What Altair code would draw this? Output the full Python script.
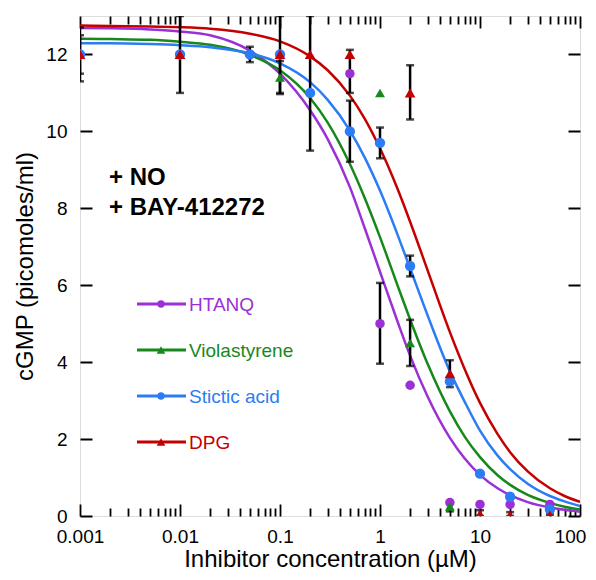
import altair as alt
import pandas as pd

# ---- series meta ----
series = ["HTANQ", "Violastyrene", "Stictic acid", "DPG"]
colors = ["#9b30d6", "#17891c", "#2b7cf5", "#c40000"]
shapes = ["circle", "triangle-up", "circle", "triangle-up"]
marker_sizes = [90, 115, 90, 115]

# ---- fitted curves ----
curve_x = [0.001, 0.002, 0.005, 0.01, 0.02, 0.05, 0.1, 0.2, 0.3, 0.5, 0.7, 1,
           1.5, 2, 3, 5, 7, 10, 15, 20, 30, 50, 70, 100]
curve_htanq = [12.69, 12.68, 12.65, 12.6, 12.5, 12.1, 11.5, 10.55, 9.8, 8.55, 7.5, 6.35,
               5.05, 4.17, 3.1, 2.03, 1.5, 1.07, 0.72, 0.54, 0.36, 0.22, 0.16, 0.11]
curve_viola = [12.41, 12.4, 12.38, 12.33, 12.25, 11.99, 11.59, 10.87, 10.23, 9.15, 8.28, 7.25,
               5.99, 5.11, 3.95, 2.72, 2.07, 1.53, 1.06, 0.81, 0.55, 0.34, 0.24, 0.17]
curve_stictic = [12.29, 12.29, 12.27, 12.24, 12.19, 12.03, 11.77, 11.28, 10.82, 10.02, 9.33, 8.46,
                 7.31, 6.44, 5.21, 3.76, 2.98, 2.22, 1.57, 1.22, 0.84, 0.52, 0.38, 0.26]
curve_dpg = [12.75, 12.74, 12.73, 12.71, 12.67, 12.54, 12.34, 11.95, 11.59, 10.93, 10.34, 9.56,
             8.5, 7.65, 6.38, 4.78, 3.83, 2.94, 2.13, 1.66, 1.16, 0.72, 0.52, 0.37]

# ---- measured points ----
htanq_x = [0.001, 0.01, 0.05, 0.1, 0.5, 1, 2, 5, 10, 20, 50]
htanq_y = [12, 12, 12, 12, 11.5, 5.0, 3.4, 0.35, 0.3, 0.3, 0.3]
viola_x = [0.001, 0.01, 0.1, 1, 2, 5, 10, 20, 50]
viola_y = [12, 12, 11.4, 11.0, 4.5, 0.25, 0.0, 0.0, 0.0]
stictic_x = [0.001, 0.01, 0.05, 0.1, 0.2, 0.5, 1, 2, 5, 10, 20, 50]
stictic_y = [12, 12, 12, 12, 11.0, 10.0, 9.7, 6.5, 3.5, 1.1, 0.5, 0.17]
dpg_x = [0.001, 0.01, 0.1, 0.2, 0.5, 2, 5, 10, 20, 50]
dpg_y = [12, 12, 12, 12, 12, 11.0, 3.7, 0.05, 0.02, 0.02]

# ---- error bars ----
err_x = [0.001, 0.001, 0.01, 0.05, 0.1, 0.1, 0.2, 0.5, 0.5, 1, 1, 2, 2, 2, 5, 5, 10, 20, 50]
err_lo = [11.3, 11.5, 11.0, 11.8, 11.0, 10.97, 9.5, 11.0, 9.21, 9.3, 3.96, 10.31, 6.23, 3.9,
          3.35, 0.12, 0.0, 0.0, 0.0]
err_hi = [12.7, 12.5, 13.0, 12.2, 13.0, 11.83, 13.0, 12.12, 10.8, 10.1, 6.06, 11.72, 6.77, 5.1,
          4.05, 0.38, 0.15, 0.1, 0.06]

# ---- axis ticks / labels / texts ----
x_major = [0.001, 0.01, 0.1, 1, 10, 100]
x_all_ticks = x_major + [m * d for d in [0.001, 0.01, 0.1, 1, 10] for m in range(2, 10)]
y_ticks = [0, 2, 4, 6, 8, 10, 12]
x_title = "Inhibitor concentration (µM)"
y_title = "cGMP (picomoles/ml)"
notes = ["+ NO", "+ BAY-412272"]

FONT = "Liberation Sans"

# ---- tables ----
curve_vals = [curve_htanq, curve_viola, curve_stictic, curve_dpg]
curve_df = pd.DataFrame([
    {"series": s, "x": x, "y": y, "o": i}
    for s, vals in zip(series, curve_vals)
    for i, (x, y) in enumerate(zip(curve_x, vals))
])
pts = [(series[0], htanq_x, htanq_y), (series[1], viola_x, viola_y),
       (series[2], stictic_x, stictic_y), (series[3], dpg_x, dpg_y)]
point_df = pd.DataFrame([
    {"series": s, "x": x, "y": y} for s, xs_, ys_ in pts for x, y in zip(xs_, ys_)
])
err_df = pd.DataFrame({"x": err_x, "lo": err_lo, "hi": err_hi})

xs = alt.Scale(type="log", domain=[0.001, 100], nice=False)
ys = alt.Scale(domain=[0, 13], nice=False, zero=False)
cs = alt.Scale(domain=series, range=colors)
ss = alt.Scale(domain=series, range=shapes)
sz = alt.Scale(domain=series, range=marker_sizes)

major_test = "abs(log(datum.value)/LN10 - round(log(datum.value)/LN10)) < 0.01"

label_x_axis = alt.Axis(orient="bottom", values=x_major, format="~g", ticks=False, tickSize=0,
                        domain=False, grid=False, labelFontSize=19, labelPadding=11,
                        labelFlush=False, labelOverlap=False, labelColor="black",
                        labelOffset={"condition": {"test": "datum.value >= 100", "value": -10},
                                     "value": 0},
                        title=x_title, titleFontSize=24, titleFontWeight="normal",
                        titleColor="black", titlePadding=1)
label_y_axis = alt.Axis(orient="left", values=y_ticks, ticks=False, tickSize=0, domain=False,
                        grid=False, labelFontSize=19, labelPadding=13, labelColor="black",
                        title=y_title, titleFontSize=24, titleFontWeight="normal",
                        titleColor="black", titlePadding=8)
tick_size_x = {"condition": {"test": major_test, "value": 12}, "value": 8}
xt_bottom = alt.Axis(orient="top", offset=-500, values=x_all_ticks, labels=False, domain=False,
                     grid=False, title=None, tickSize=tick_size_x, tickWidth=1.8, tickColor="black")
xt_top = alt.Axis(orient="bottom", offset=-500, values=x_all_ticks, labels=False, domain=False,
                  grid=False, title=None, tickSize=tick_size_x, tickWidth=1.8, tickColor="black")
yt_left = alt.Axis(orient="right", offset=-500, values=y_ticks, labels=False, domain=False,
                   grid=False, title=None, tickSize=12, tickWidth=2, tickColor="black")
yt_right = alt.Axis(orient="left", offset=-500, values=y_ticks, labels=False, domain=False,
                    grid=False, title=None, tickSize=12, tickWidth=2, tickColor="black")

curves = alt.Chart(curve_df).mark_line(strokeWidth=2.5, interpolate="monotone", clip=True).encode(
    x=alt.X("x:Q", scale=xs, axis=label_x_axis),
    y=alt.Y("y:Q", scale=ys, axis=label_y_axis),
    color=alt.Color("series:N", scale=cs, legend=None, sort=series),
    order="o:Q",
)

bars = alt.Chart(err_df).mark_rule(color="black", strokeWidth=2.5, clip=True).encode(
    x=alt.X("x:Q", scale=xs, axis=xt_bottom),
    y=alt.Y("lo:Q", scale=ys, axis=yt_left),
    y2="hi:Q",
)

caps = alt.Chart(err_df).transform_fold(["lo", "hi"], as_=["k", "v"]).mark_tick(
    orient="horizontal", color="black", size=8, thickness=2.5, clip=True).encode(
    x=alt.X("x:Q", scale=xs, axis=None),
    y=alt.Y("v:Q", scale=ys, axis=None),
)

points = alt.Chart(point_df).mark_point(filled=True, opacity=1, clip=True).encode(
    x=alt.X("x:Q", scale=xs, axis=xt_top),
    y=alt.Y("y:Q", scale=ys, axis=yt_right),
    color=alt.Color("series:N", scale=cs, legend=None),
    shape=alt.Shape("series:N", scale=ss, legend=None),
    size=alt.Size("series:N", scale=sz, legend=None),
)

layers = [curves, bars, caps, points]

# in-plot legend
for i, (s, c, sh) in enumerate(zip(series, colors, shapes)):
    d = pd.DataFrame({"series": [s]})
    yc = 288 + 46 * i
    layers.append(alt.Chart(d).mark_rule(color=c, strokeWidth=3).encode(
        x=alt.value(57), x2=alt.value(106), y=alt.value(yc)))
    layers.append(alt.Chart(d).mark_point(filled=True, opacity=1, color=c, shape=sh,
                                          size=55 if sh == "circle" else 75).encode(
        x=alt.value(81), y=alt.value(yc)))
    layers.append(alt.Chart(d).mark_text(align="left", baseline="alphabetic", font=FONT,
                                         fontSize=19, color=c).encode(
        x=alt.value(109), y=alt.value(yc + 7), text="series:N"))

# annotations
for i, n in enumerate(notes):
    d = pd.DataFrame({"note": [n]})
    layers.append(alt.Chart(d).mark_text(align="left", baseline="alphabetic", font=FONT,
                                         fontSize=24, fontWeight="bold", color="black").encode(
        x=alt.value(29), y=alt.value(169 + 30 * i), text="note:N"))

chart = alt.layer(*layers).resolve_axis(x="independent", y="independent").properties(
    width=500, height=500,
    autosize=alt.AutoSizeParams(type="none"),
    padding={"left": 72, "top": 8, "right": 8, "bottom": 56},
).configure_view(stroke="black", strokeWidth=2).configure_axis(
    labelFont=FONT, titleFont=FONT
).configure(background="white")

chart.save("out.html", embed_options={"renderer": "svg", "actions": False})
